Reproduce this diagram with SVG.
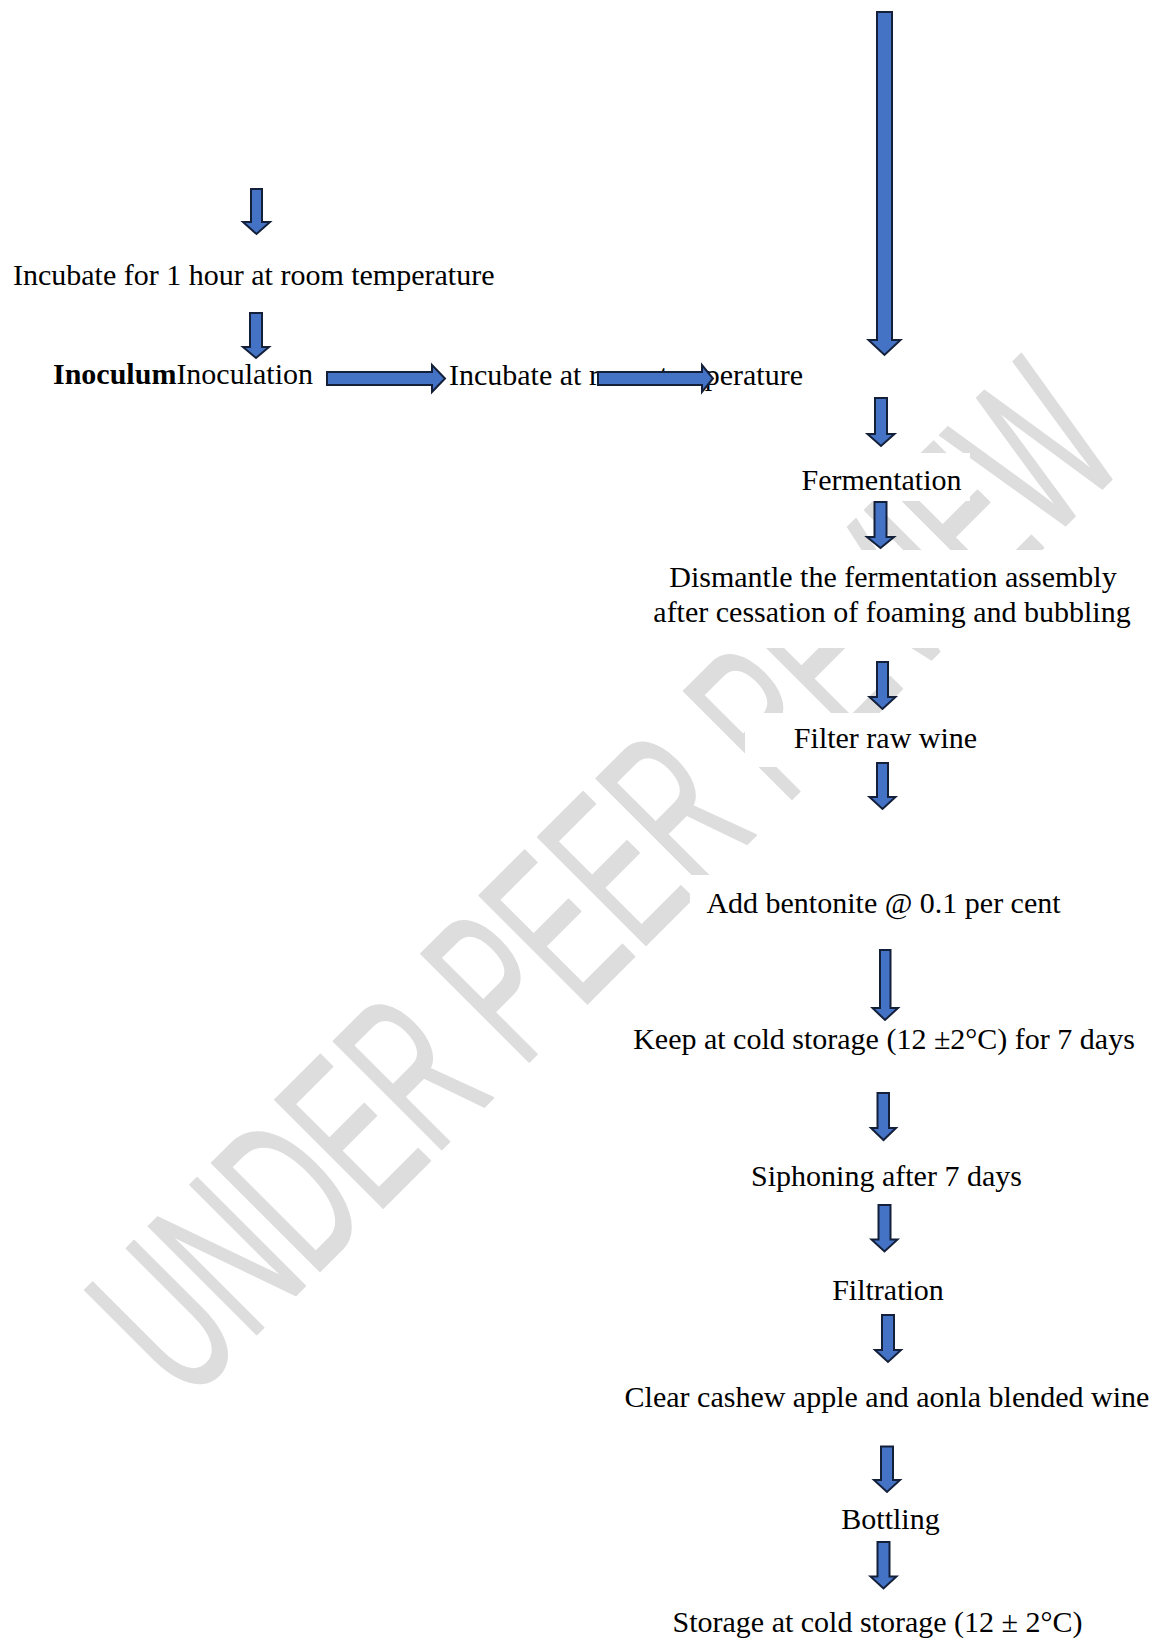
<svg xmlns="http://www.w3.org/2000/svg" width="1157" height="1642" viewBox="0 0 1157 1642">
<style>
.t{font-family:"Liberation Serif","Times New Roman",serif;font-size:30px;fill:#000}
.c{text-anchor:middle}
.b{font-weight:bold}
.bg{fill:#fff}
.ar{fill:#4472C4;stroke:#14203a;stroke-width:2;stroke-linejoin:miter}
.wm{font-family:"Liberation Sans",Arial,sans-serif;font-weight:normal;font-size:222px;fill:#dddddd;stroke:#dddddd;stroke-width:2;stroke-linejoin:round}
</style>
<rect width="1157" height="1642" fill="#fff"/>
<g id="watermark">
<text class="wm" transform="translate(186,1405) rotate(-45)" textLength="1335" lengthAdjust="spacingAndGlyphs">UNDER PEER REVIEW</text>
</g>
<g id="n-incubate1"><text class="t" x="13" y="285">Incubate for 1 hour at room temperature</text></g>
<g id="n-inoculation"><text class="t" x="53" y="384"><tspan class="b">Inoculum</tspan>Inoculation</text></g>
<g id="n-incubate2"><text class="t" x="449" y="385">Incubate at room temperature</text></g>
<g id="n-fermentation"><rect class="bg" x="790" y="453" width="180" height="48"/><text class="t c" x="881.5" y="490">Fermentation</text></g>
<g id="n-dismantle"><rect class="bg" x="645" y="550" width="490" height="98"/><text class="t c" x="893" y="587">Dismantle the fermentation assembly</text><text class="t c" x="892" y="622">after cessation of foaming and bubbling</text></g>
<g id="n-filter"><rect class="bg" x="745" y="713" width="255" height="54"/><text class="t c" x="885.5" y="748">Filter raw wine</text></g>
<g id="n-bentonite"><rect class="bg" x="690" y="875" width="390" height="70"/><text class="t c" x="883.5" y="913">Add bentonite @ 0.1 per cent</text></g>
<g id="n-cold"><text class="t c" x="884" y="1049">Keep at cold storage (12 ±2°C) for 7 days</text></g>
<g id="n-siphon"><text class="t c" x="886.5" y="1186">Siphoning after 7 days</text></g>
<g id="n-filtration"><text class="t c" x="888" y="1300">Filtration</text></g>
<g id="n-clear"><text class="t c" x="887" y="1407">Clear cashew apple and aonla blended wine</text></g>
<g id="n-bottling"><text class="t c" x="890.5" y="1529">Bottling</text></g>
<g id="n-storage"><text class="t c" x="877.5" y="1632">Storage at cold storage (12 ± 2°C)</text></g>
<g id="connectors">
<polygon class="ar" points="877,12 892,12 892,340 900.5,340 884.5,355 868.5,340 877,340"/>
<polygon class="ar" points="251,189 262,189 262,222 270,222 256.5,234 243,222 251,222"/>
<polygon class="ar" points="250,313 262,313 262,347 269,347 256,358 243,347 250,347"/>
<polygon class="ar" points="327,372 432,372 432,365 445,378.5 432,392 432,385 327,385"/>
<polygon class="ar" points="598,372 702,372 702,365 713,378.5 702,392 702,385 598,385"/>
<polygon class="ar" points="875,398 887,398 887,434 894.5,434 881,446 867.5,434 875,434"/>
<polygon class="ar" points="874.5,502 886.5,502 886.5,537 894,537 880.5,548 867,537 874.5,537"/>
<polygon class="ar" points="877,662 888,662 888,697 895.5,697 882.5,709 869.5,697 877,697"/>
<polygon class="ar" points="877,763 888,763 888,797 895.5,797 882.5,809 869.5,797 877,797"/>
<polygon class="ar" points="880,950 890.5,950 890.5,1008 898,1008 885,1020 872.5,1008 880,1008"/>
<polygon class="ar" points="877.5,1093 889,1093 889,1128 896,1128 883.5,1140 871,1128 877.5,1128"/>
<polygon class="ar" points="878.5,1205 890.5,1205 890.5,1239.5 897.5,1239.5 884.5,1251.5 871.5,1239.5 878.5,1239.5"/>
<polygon class="ar" points="882,1315 894,1315 894,1350 901,1350 888,1362 875,1350 882,1350"/>
<polygon class="ar" points="881,1446.5 893,1446.5 893,1480 900,1480 887,1492 874,1480 881,1480"/>
<polygon class="ar" points="877.5,1542 889.5,1542 889.5,1576.5 896.5,1576.5 883.5,1588.5 870.5,1576.5 877.5,1576.5"/>
</g>
</svg>
